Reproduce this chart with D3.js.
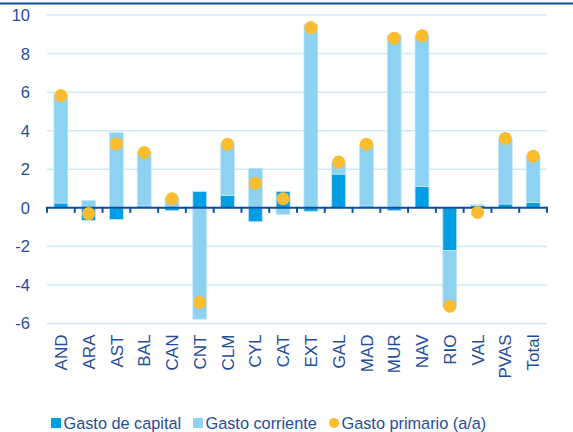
<!DOCTYPE html>
<html lang="es">
<head>
<meta charset="utf-8">
<title>Gasto primario por CCAA</title>
<script src="https://cdn.jsdelivr.net/npm/d3@7"></script>
<style>
  body { margin: 0; background: #fff; }
  text { font-family: "Liberation Sans", Arial, sans-serif; fill: #1f4e9c; }
</style>
</head>
<body>
<svg id="chart"></svg>
<script>
// categories and series
var regions = ["AND", "ARA", "AST", "BAL", "CAN", "CNT", "CLM", "CYL", "CAT",
               "EXT", "GAL", "MAD", "MUR", "NAV", "RIO", "VAL", "PVAS", "Total"];
var capital   = [0.25, -0.65, -0.6, 0.1, -0.15, 0.85, 0.65, -0.72, 0.85,
                 -0.18, 1.75, 0.1, -0.15, 1.1, -2.22, 0.12, 0.2, 0.27];
var corriente = [5.62, 0.38, 3.9, 2.8, 0.55, -5.78, 2.7, 2.05, -0.35,
                 9.5, 0.62, 3.22, 8.95, 7.85, -2.93, 0.05, 3.4, 2.42];
var primario  = [5.82, -0.3, 3.32, 2.87, 0.47, -4.9, 3.3, 1.28, 0.47,
                 9.35, 2.37, 3.3, 8.8, 8.92, -5.1, -0.24, 3.6, 2.67];
var yTicks = [-6, -4, -2, 0, 2, 4, 6, 8, 10];

var seriesNames = ["Gasto de capital", "Gasto corriente", "Gasto primario (a/a)"];
var colors = { capital: "#009ee2", corriente: "#8dd2f1", primario: "#fbbd2f" };

var width = 573, height = 432;
var margin = { left: 47, right: 26, top: 15, bottom: 108 };

var svg = d3.select("#chart")
    .attr("width", width)
    .attr("height", height);

// rule across the top
svg.append("line")
    .attr("x1", 0).attr("x2", width)
    .attr("y1", 3.5).attr("y2", 3.5)
    .attr("stroke", "#0b4ea2")
    .attr("stroke-width", 2);

var x = d3.scaleBand()
    .domain(regions)
    .range([margin.left, width - margin.right])
    .paddingInner(0.5)
    .paddingOuter(0.25);

var y = d3.scaleLinear()
    .domain([-6, 10])
    .range([height - margin.bottom - 0.5, margin.top]);

// gridlines
svg.append("g")
    .selectAll("line")
    .data(yTicks.filter(function(d) { return d !== 0; }))
    .enter().append("line")
    .attr("x1", margin.left).attr("x2", width - margin.right)
    .attr("y1", function(d) { return y(d); })
    .attr("y2", function(d) { return y(d); })
    .attr("stroke", "#cdeaf8")
    .attr("stroke-width", 1.5);

// y labels
svg.append("g")
    .selectAll("text")
    .data(yTicks)
    .enter().append("text")
    .attr("x", 30)
    .attr("y", function(d) { return y(d); })
    .attr("dy", "0.36em")
    .attr("text-anchor", "end")
    .style("font-size", "16.5px")
    .text(function(d) { return d; });

// stacked bars, positives and negatives stacked separately
var table = regions.map(function(r, i) {
    return { region: r, capital: capital[i], corriente: corriente[i] };
});
var stack = d3.stack()
    .keys(["capital", "corriente"])
    .offset(d3.stackOffsetDiverging);
var layers = stack(table);

svg.append("g")
    .selectAll("g")
    .data(layers)
    .enter().append("g")
    .attr("fill", function(d) { return colors[d.key]; })
    .selectAll("rect")
    .data(function(d) { return d; })
    .enter().append("rect")
    .attr("x", function(d) { return x(d.data.region); })
    .attr("width", x.bandwidth())
    .attr("y", function(d) { return y(Math.max(d[0], d[1])); })
    .attr("height", function(d) { return Math.abs(y(d[0]) - y(d[1])); })
    .attr("stroke", "#c4e7f7")
    .attr("stroke-width", 0.8);

// x axis line with ticks at band edges
var axisY = y(0);
var step = x.step();
var edges = d3.range(regions.length + 1).map(function(i) {
    return margin.left + i * step;
});
svg.append("line")
    .attr("x1", margin.left).attr("x2", width - margin.right)
    .attr("y1", axisY).attr("y2", axisY)
    .attr("stroke", "#0b4ea2")
    .attr("stroke-width", 2);
svg.append("g")
    .selectAll("line")
    .data(edges)
    .enter().append("line")
    .attr("x1", function(d) { return d; })
    .attr("x2", function(d) { return d; })
    .attr("y1", axisY - 1)
    .attr("y2", axisY + 5)
    .attr("stroke", "#0b4ea2")
    .attr("stroke-width", 2);

// dots
svg.append("g")
    .selectAll("circle")
    .data(primario)
    .enter().append("circle")
    .attr("cx", function(d, i) { return x(regions[i]) + x.bandwidth() / 2; })
    .attr("cy", function(d) { return y(d); })
    .attr("r", 6.5)
    .attr("fill", colors.primario);

// x labels, rotated
var labelTop = y(-6) + 11;
svg.append("g")
    .selectAll("text")
    .data(regions)
    .enter().append("text")
    .attr("transform", function(d) {
        return "translate(" + (x(d) + x.bandwidth() / 2) + "," + labelTop + ") rotate(-90)";
    })
    .attr("dy", "0.36em")
    .attr("text-anchor", "end")
    .style("font-size", "17px")
    .text(function(d) { return d; });

// legend
var legend = svg.append("g").attr("transform", "translate(0,423)");
var items = [
    { name: seriesNames[0], color: colors.capital, shape: "rect", x: 51 },
    { name: seriesNames[1], color: colors.corriente, shape: "rect", x: 193 },
    { name: seriesNames[2], color: colors.primario, shape: "circle", x: 329 }
];
items.forEach(function(it) {
    if (it.shape === "rect") {
        legend.append("rect")
            .attr("x", it.x).attr("y", -5)
            .attr("width", 10).attr("height", 10)
            .attr("fill", it.color);
    } else {
        legend.append("circle")
            .attr("cx", it.x + 5).attr("cy", 0)
            .attr("r", 5)
            .attr("fill", it.color);
    }
    legend.append("text")
        .attr("x", it.x + 12.5)
        .attr("y", 0)
        .attr("dy", "0.36em")
        .style("font-size", "16.3px")
        .text(it.name);
});
</script>
</body>
</html>
